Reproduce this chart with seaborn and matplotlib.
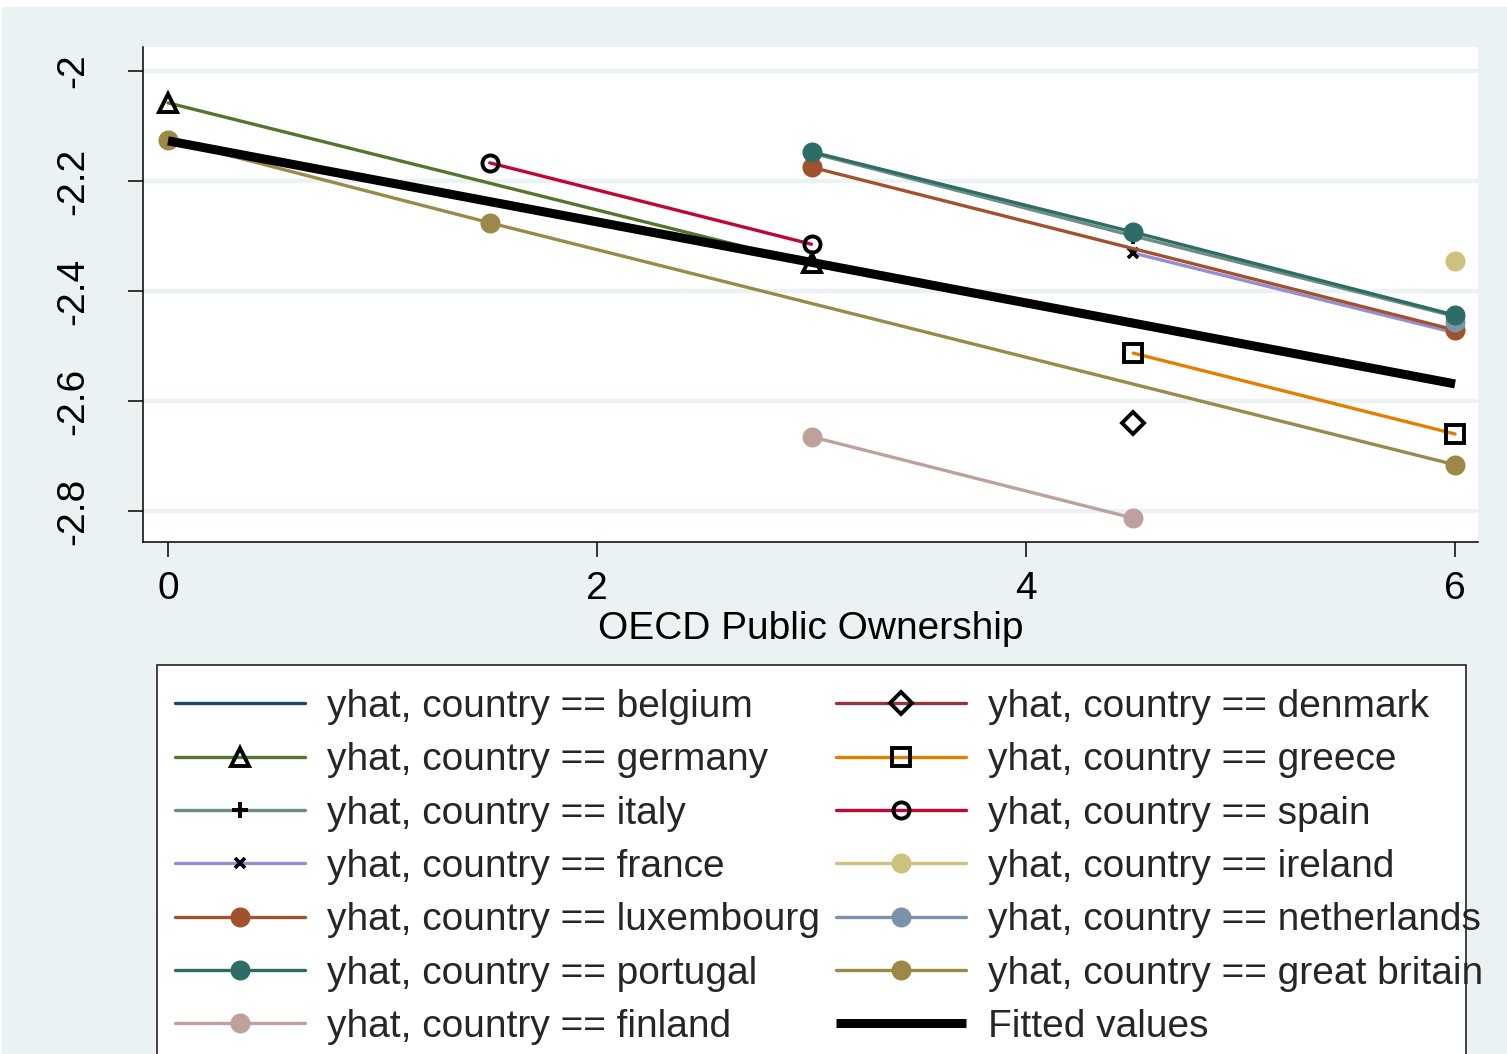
import matplotlib
matplotlib.use("Agg")
import matplotlib.pyplot as plt
from matplotlib.lines import Line2D
from matplotlib.patches import Rectangle
import seaborn as sns

# Predicted values (yhat) by OECD public ownership score, one series per country
belgium_x, belgium_y = [], []
denmark_x, denmark_y = [4.5], [-2.640]
germany_x, germany_y = [0, 3], [-2.058, -2.350]
greece_x, greece_y = [4.5, 6], [-2.513, -2.660]
italy_x, italy_y = [3, 4.5, 6], [-2.149, -2.300, -2.446]
spain_x, spain_y = [1.5, 3], [-2.167, -2.315]
france_x, france_y = [4.5, 6], [-2.331, -2.476]
ireland_x, ireland_y = [6], [-2.345]
luxembourg_x, luxembourg_y = [3, 6], [-2.175, -2.471]
netherlands_x, netherlands_y = [6], [-2.457]
portugal_x, portugal_y = [3, 4.5, 6], [-2.147, -2.293, -2.444]
britain_x, britain_y = [0, 1.5, 6], [-2.125, -2.276, -2.716]
finland_x, finland_y = [3, 4.5], [-2.665, -2.813]

# Pooled linear fit
fitted_x, fitted_y = [0, 6], [-2.127, -2.569]

x_ticks = [0, 2, 4, 6]
y_ticks = [-2.0, -2.2, -2.4, -2.6, -2.8]
y_tick_labels = ["-2", "-2.2", "-2.4", "-2.6", "-2.8"]
x_label = "OECD Public Ownership"

# Stata s2color palette
BG = "#EAF2F3"
hollow = dict(mfc="none", mec="black", mew=2.8)
filled = dict(mew=0, markersize=14.4)

series = [
    ("belgium", belgium_x, belgium_y, "#1A476F", dict(marker="")),
    ("denmark", denmark_x, denmark_y, "#90353B", dict(marker="D", markersize=11.5, **hollow)),
    ("germany", germany_x, germany_y, "#55752F", dict(marker="^", markersize=13, **hollow)),
    ("greece", greece_x, greece_y, "#E37E00", dict(marker="s", markersize=12.3, **hollow)),
    ("italy", italy_x, italy_y, "#6E8E84", dict(marker="+", markersize=11, mec="black", mew=2.8)),
    ("spain", spain_x, spain_y, "#C10534", dict(marker="o", markersize=11.6, **hollow)),
    ("france", france_x, france_y, "#938DD2", dict(marker="x", markersize=6.5, mec="black", mew=2.6)),
    ("ireland", ireland_x, ireland_y, "#CAC27E", dict(marker="o", **filled)),
    ("luxembourg", luxembourg_x, luxembourg_y, "#A0522D", dict(marker="o", **filled)),
    ("netherlands", netherlands_x, netherlands_y, "#7B92A8", dict(marker="o", **filled)),
    ("portugal", portugal_x, portugal_y, "#2D6D66", dict(marker="o", **filled)),
    ("great britain", britain_x, britain_y, "#9C8847", dict(marker="o", **filled)),
    ("finland", finland_x, finland_y, "#BFA19C", dict(marker="o", **filled)),
]

sns.set_theme(style="white")
plt.rcParams["font.family"] = ["Liberation Sans", "DejaVu Sans"]
FS = 28

fig = plt.figure(figsize=(15.07, 10.54), dpi=100, facecolor="white")
fig.patches.append(Rectangle((2 / 1507, 0), 1, 1047 / 1054, transform=fig.transFigure,
                             facecolor=BG, edgecolor="none", zorder=-10))

ax = fig.add_axes([143 / 1507, 1 - 542 / 1054, (1478 - 143) / 1507, (542 - 47) / 1054])
ax.set_facecolor("white")

LW = 2.4
handles = {}
for name, xs, ys, color, style in series:
    if xs:
        sns.lineplot(x=xs, y=ys, ax=ax, color=color, linewidth=LW, sort=False,
                     estimator=None, legend=False, zorder=3, **style)
    handles[name] = Line2D([], [], color=color, linewidth=LW, **style)

sns.lineplot(x=fitted_x, y=fitted_y, ax=ax, color="black", linewidth=6.5,
             estimator=None, legend=False, zorder=4, solid_capstyle="butt")
handles["Fitted values"] = Line2D([], [], color="black", linewidth=6.5, solid_capstyle="butt")

ax.set_xlim(-0.1166, 6.107)
ax.set_ylim(-2.8564, -1.9564)
ax.set_xticks(x_ticks)
ax.set_xticklabels([str(t) for t in x_ticks])
ax.set_yticks(y_ticks)
ax.set_yticklabels(y_tick_labels, rotation=90, va="center")
for sp in ["top", "right"]:
    ax.spines[sp].set_visible(False)
for sp in ["left", "bottom"]:
    ax.spines[sp].set_color("black")
    ax.spines[sp].set_linewidth(1.1)
ax.tick_params(axis="both", direction="out", length=10.5, width=1.1, color="black",
               labelsize=FS, labelcolor="black")
ax.tick_params(axis="x", pad=10.5)
ax.tick_params(axis="y", pad=27, left=True)
ax.tick_params(axis="x", bottom=True)
ax.yaxis.grid(True, color=BG, linewidth=3)
ax.xaxis.grid(False)
ax.set_axisbelow(True)
ax.set_xlabel(x_label, fontsize=FS, color="black", labelpad=2.5)
ax.set_ylabel("")

# Legend: two columns, Stata row order
col1 = ["belgium", "germany", "italy", "france", "luxembourg", "portugal", "finland"]
col2 = ["denmark", "greece", "spain", "ireland", "netherlands", "great britain", "Fitted values"]
order = col1 + col2
labels = [n if n == "Fitted values" else f"yhat, country == {n}" for n in order]
fig.patches.append(Rectangle((157 / 1507, -0.1), (1466 - 157) / 1507, 0.1 + (1054 - 665) / 1054,
                             transform=fig.transFigure, facecolor="white",
                             edgecolor="#222222", linewidth=1.2, zorder=-5))
fig.legend([handles[n] for n in order], labels, ncol=2, loc="upper left",
           bbox_to_anchor=(175 / 1507, 1 - 689 / 1054), frameon=False, fontsize=FS,
           handlelength=3.34, handletextpad=0.57, columnspacing=0.40, borderpad=0,
           borderaxespad=0, labelspacing=0.445, numpoints=1)

fig.savefig("out.png", dpi=100, facecolor="white")
